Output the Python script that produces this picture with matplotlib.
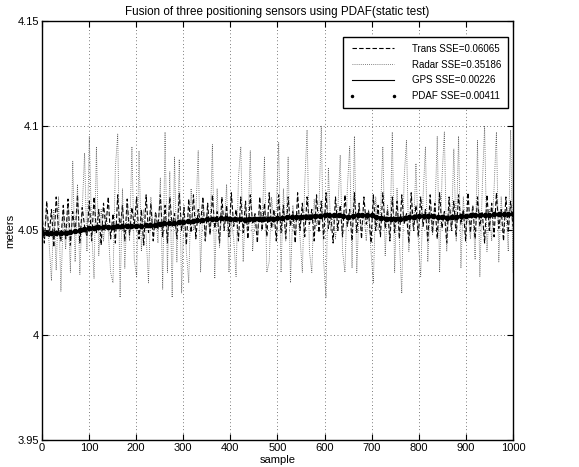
import numpy as np
import matplotlib
matplotlib.use("Agg")
import matplotlib.pyplot as plt

plt.rcParams['font.family'] = ['Liberation Sans', 'DejaVu Sans']

# Trans sensor (dashed), sampled every ~5 samples
trans = [
    4.058, 4.044, 4.064, 4.047, 4.060, 4.042, 4.066, 4.050, 4.045, 4.062,
    4.046, 4.065, 4.043, 4.059, 4.048, 4.067, 4.044, 4.061, 4.052, 4.047,
    4.064, 4.045, 4.066, 4.049, 4.060, 4.043, 4.063, 4.051, 4.066, 4.046,
    4.058, 4.044, 4.067, 4.050, 4.062, 4.045, 4.065, 4.048, 4.061, 4.052,
    4.066, 4.046, 4.060, 4.043, 4.067, 4.049, 4.063, 4.045, 4.059, 4.051,
    4.067, 4.047, 4.062, 4.044, 4.066, 4.052, 4.058, 4.046, 4.068, 4.050,
    4.061, 4.043, 4.065, 4.049, 4.067, 4.046, 4.060, 4.053, 4.066, 4.045,
    4.063, 4.048, 4.067, 4.051, 4.059, 4.044, 4.066, 4.050, 4.062, 4.047,
    4.068, 4.052, 4.060, 4.045, 4.066, 4.049, 4.064, 4.046, 4.067, 4.053,
    4.058, 4.044, 4.066, 4.050, 4.063, 4.047, 4.068, 4.051, 4.060, 4.045,
    4.067, 4.049, 4.062, 4.046, 4.066, 4.052, 4.059, 4.044, 4.068, 4.050,
    4.063, 4.047, 4.066, 4.053, 4.060, 4.045, 4.067, 4.049, 4.064, 4.046,
    4.068, 4.051, 4.058, 4.044, 4.066, 4.050, 4.062, 4.047, 4.067, 4.052,
    4.060, 4.045, 4.068, 4.049, 4.063, 4.046, 4.066, 4.053, 4.059, 4.044,
    4.067, 4.050, 4.062, 4.047, 4.068, 4.051, 4.060, 4.045, 4.066, 4.049,
    4.064, 4.046, 4.067, 4.053, 4.058, 4.044, 4.068, 4.050, 4.062, 4.047,
    4.066, 4.052, 4.060, 4.045, 4.067, 4.049, 4.063, 4.046, 4.068, 4.051,
    4.059, 4.044, 4.066, 4.050, 4.064, 4.047, 4.067, 4.053, 4.060, 4.045,
    4.068, 4.049, 4.062, 4.046, 4.066, 4.052, 4.059, 4.044, 4.067, 4.050,
    4.063, 4.047, 4.068, 4.051, 4.060, 4.045, 4.066, 4.049, 4.064, 4.052,
]

# Radar sensor (dotted), bursts of big spikes
radar = [
    4.052, 4.047, 4.058, 4.044, 4.026, 4.060, 4.031, 4.066, 4.021, 4.058,
    4.041, 4.062, 4.030, 4.083, 4.035, 4.072, 4.029, 4.060, 4.087, 4.040,
    4.095, 4.050, 4.027, 4.090, 4.038, 4.060, 4.045, 4.058, 4.050, 4.030,
    4.025, 4.080, 4.096, 4.018, 4.070, 4.032, 4.062, 4.045, 4.090, 4.036,
    4.028, 4.088, 4.040, 4.060, 4.048, 4.025, 4.066, 4.050, 4.058, 4.044,
    4.075, 4.022, 4.097, 4.030, 4.078, 4.018, 4.085, 4.035, 4.084, 4.020,
    4.062, 4.040, 4.025, 4.070, 4.050, 4.058, 4.088, 4.030, 4.065, 4.045,
    4.058, 4.048, 4.091, 4.027, 4.070, 4.042, 4.060, 4.050, 4.072, 4.030,
    4.055, 4.046, 4.028, 4.075, 4.090, 4.035, 4.062, 4.050, 4.088, 4.040,
    4.058, 4.048, 4.060, 4.052, 4.085, 4.030, 4.035, 4.066, 4.052, 4.060,
    4.092, 4.030, 4.070, 4.045, 4.085, 4.025, 4.062, 4.050, 4.058, 4.047,
    4.030, 4.072, 4.098, 4.040, 4.030, 4.065, 4.052, 4.060, 4.100, 4.035,
    4.018, 4.080, 4.050, 4.058, 4.046, 4.060, 4.086, 4.040, 4.030, 4.070,
    4.090, 4.032, 4.095, 4.030, 4.062, 4.050, 4.058, 4.045, 4.060, 4.040,
    4.025, 4.066, 4.050, 4.058, 4.090, 4.038, 4.062, 4.046, 4.097, 4.030,
    4.070, 4.045, 4.020, 4.075, 4.093, 4.040, 4.060, 4.050, 4.082, 4.045,
    4.028, 4.066, 4.090, 4.035, 4.060, 4.048, 4.058, 4.095, 4.030, 4.075,
    4.097, 4.040, 4.062, 4.050, 4.089, 4.045, 4.095, 4.032, 4.066, 4.050,
    4.058, 4.046, 4.062, 4.036, 4.093, 4.028, 4.070, 4.100, 4.040, 4.060,
    4.045, 4.070, 4.097, 4.035, 4.066, 4.050, 4.060, 4.040, 4.098, 4.030,
]

# GPS sensor (solid thin line)
gps = [
    4.0490, 4.0488, 4.0492, 4.0489, 4.0495, 4.0505, 4.0512, 4.0518, 4.0520, 4.0524,
    4.0522, 4.0527, 4.0531, 4.0534, 4.0540, 4.0548, 4.0552, 4.0556, 4.0560, 4.0558,
    4.0562, 4.0564, 4.0561, 4.0566, 4.0570, 4.0574, 4.0571, 4.0567, 4.0562, 4.0566,
    4.0571, 4.0569, 4.0563, 4.0561, 4.0566, 4.0569, 4.0566, 4.0563, 4.0568, 4.0571,
    4.0574, 4.0570, 4.0573, 4.0577, 4.0579,
]

# PDAF fused estimate (thick dotted)
pdaf = [
    4.0488, 4.0487, 4.0488, 4.0489, 4.0488, 4.0490, 4.0493,
    4.0498, 4.0504, 4.0508, 4.0511, 4.0513, 4.0515, 4.0516, 4.0517, 4.0518,
    4.0519, 4.0520, 4.0521, 4.0521, 4.0522, 4.0523, 4.0524, 4.0525, 4.0527, 4.0530,
    4.0534, 4.0537, 4.0538, 4.0539, 4.0541, 4.0543, 4.0546, 4.0549, 4.0551, 4.0553,
    4.0555, 4.0557, 4.0558, 4.0558, 4.0557, 4.0555, 4.0553, 4.0552, 4.0553, 4.0555,
    4.0556, 4.0556, 4.0555, 4.0556, 4.0558, 4.0560, 4.0562, 4.0563, 4.0564, 4.0563,
    4.0564, 4.0566, 4.0568, 4.0570, 4.0572, 4.0573, 4.0574, 4.0572, 4.0568, 4.0564,
    4.0567, 4.0572, 4.0575, 4.0576, 4.0573, 4.0566, 4.0560, 4.0556, 4.0553, 4.0554,
    4.0557, 4.0561, 4.0564, 4.0566, 4.0567, 4.0568, 4.0570, 4.0569, 4.0566, 4.0563,
    4.0561, 4.0562, 4.0564, 4.0567, 4.0570, 4.0572, 4.0573, 4.0574, 4.0575, 4.0576,
    4.0577, 4.0578, 4.0578, 4.0579, 4.0580,
]

labels = ["Trans SSE=0.06065", "Radar SSE=0.35186", "GPS SSE=0.00226", "PDAF SSE=0.00411"]

fig = plt.figure(figsize=(5.79, 4.67), dpi=100)
ax = fig.add_axes([0.0725, 0.058, 0.8135, 0.897])

ax.plot(np.linspace(0, 1000, len(trans)), trans, 'k--', lw=0.8, dashes=(4, 2), label=labels[0])
ax.plot(np.linspace(0, 1000, len(radar)), radar, ':', color='0.35', lw=0.6,
        dashes=(1, 1.5), label=labels[1])
ax.plot(np.linspace(0, 1000, len(gps)), gps, 'k-', lw=0.8, label=labels[2])
ax.plot(np.linspace(0, 1000, len(pdaf)), pdaf, 'k.', ms=6, label=labels[3])

ax.set_xlim(0, 1000)
ax.set_ylim(3.95, 4.15)
ax.set_xticks(np.arange(0, 1001, 100))
ax.set_yticks([3.95, 4.0, 4.05, 4.1, 4.15])
ax.set_yticklabels(["3.95", "4", "4.05", "4.1", "4.15"])
ax.tick_params(direction='in', top=True, right=True, labelsize=8, length=4, pad=2)
ax.grid(True, color='k', lw=0.5, linestyle=(0, (1, 4)))
for s in ax.spines.values():
    s.set_linewidth(1.0)

ax.set_title("Fusion of three positioning sensors using PDAF(static test)", fontsize=8.4, pad=4)
ax.set_xlabel("sample", fontsize=8, labelpad=2)
ax.set_ylabel("meters", fontsize=8, labelpad=2)

leg = ax.legend(loc='upper right', bbox_to_anchor=(0.989, 0.962), fontsize=7,
                numpoints=2, handlelength=4.9, handletextpad=1.5,
                fancybox=False, framealpha=1, edgecolor='k', borderaxespad=0,
                borderpad=0.7, labelspacing=0.6)
leg.get_frame().set_linewidth(1.0)
leg.legend_handles[3].set_markersize(3)

fig.savefig("out.png", dpi=100)
